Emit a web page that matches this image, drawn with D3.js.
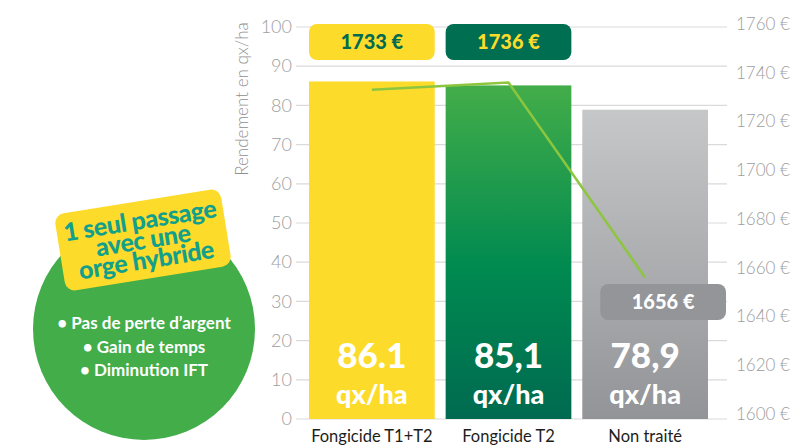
<script type='text/javascript' src='https://d3js.org/d3.v7.min.js'></script>
<style>
body { margin: 0; background: #fff; }
svg { display: block; font-family: Lato, "Open Sans", sans-serif; }
</style>
<svg width="792" height="446"></svg>
<script>
// data
var categories = ["Fongicide T1+T2", "Fongicide T2", "Non traité"];
var yields = [86.1, 85.1, 78.9];
var yieldLabels = ["86.1", "85,1", "78,9"];
var prices = [1733, 1736, 1656];
var yieldTicks = [0, 10, 20, 30, 40, 50, 60, 70, 80, 90, 100];
var priceTicks = [1600, 1620, 1640, 1660, 1680, 1700, 1720, 1740, 1760];
var bullets = ["• Pas de perte d\u2019argent", "• Gain de temps", "• Diminution IFT"];
var calloutLines = ["1 seul passage", "avec une", "orge hybride"];

var svg = d3.select("svg");

var x = d3.scaleBand().domain(categories).range([309, 708]).paddingInner(0.08);
var y = d3.scaleLinear().domain([0, 100]).range([419, 27]);
var y2 = d3.scaleLinear().domain([1600, 1760]).range([414, 24]);

var defs = svg.append("defs");
var g2 = defs.append("linearGradient").attr("id", "gradGreen")
 .attr("x1", 0).attr("y1", 0).attr("x2", 0).attr("y2", 1);
g2.append("stop").attr("offset", "0%").attr("stop-color", "#43ad49");
g2.append("stop").attr("offset", "55%").attr("stop-color", "#008a50");
g2.append("stop").attr("offset", "100%").attr("stop-color", "#006a50");
var g3 = defs.append("linearGradient").attr("id", "gradGrey")
 .attr("x1", 0).attr("y1", 0).attr("x2", 0).attr("y2", 1);
g3.append("stop").attr("offset", "0%").attr("stop-color", "#c6c7c9");
g3.append("stop").attr("offset", "100%").attr("stop-color", "#929497");

var barFill = ["#fddb2b", "url(#gradGreen)", "url(#gradGrey)"];

// gridlines
svg.append("g").selectAll("line")
 .data(yieldTicks)
 .enter().append("line")
 .attr("x1", 296).attr("x2", 727)
 .attr("y1", function(d) { return y(d); })
 .attr("y2", function(d) { return y(d); })
 .attr("stroke", "#dadada")
 .attr("stroke-width", 1.2);

// left axis
var left = svg.append("g")
 .attr("transform", "translate(292,0)")
 .call(d3.axisLeft(y).tickValues(yieldTicks).tickSize(0).tickPadding(0));
left.select(".domain").remove();
left.selectAll("text")
 .attr("font-family", "Lato, sans-serif")
 .attr("font-weight", 300)
 .attr("font-size", "18px")
 .attr("fill", "#9d9d9d");

// right axis
var right = svg.append("g")
 .attr("transform", "translate(736,0)")
 .call(d3.axisRight(y2).tickValues(priceTicks).tickSize(0).tickPadding(0)
   .tickFormat(function(d) { return d + " \u20ac"; }));
right.select(".domain").remove();
right.selectAll("text")
 .attr("font-family", "Lato, sans-serif")
 .attr("font-weight", 300)
 .attr("font-size", "17px")
 .attr("fill", "#9d9d9d");

svg.append("text")
 .attr("transform", "translate(248,99) rotate(-90)")
 .attr("text-anchor", "middle")
 .attr("font-size", "17px")
 .attr("font-weight", 300)
 .attr("fill", "#8f8f8f")
 .text("Rendement en qx/ha");

// bars
svg.append("g").selectAll("rect")
 .data(yields)
 .enter().append("rect")
 .attr("x", function(d, i) { return x(categories[i]); })
 .attr("y", function(d) { return y(d); })
 .attr("width", x.bandwidth())
 .attr("height", function(d) { return y(0) - y(d); })
 .attr("fill", function(d, i) { return barFill[i]; });

// value labels in bars
var vl = svg.append("g").selectAll("g")
 .data(yields)
 .enter().append("g")
 .attr("transform", function(d, i) { return "translate(" + (x(categories[i]) + x.bandwidth() / 2) + ",0)"; });
vl.append("text")
 .attr("y", 368)
 .attr("text-anchor", "middle")
 .attr("font-size", "35px")
 .attr("font-weight", 900)
 .attr("fill", "#fff")
 .text(function(d, i) { return yieldLabels[i]; });
vl.append("text")
 .attr("y", 404)
 .attr("text-anchor", "middle")
 .attr("font-size", "27px")
 .attr("font-weight", 900)
 .attr("fill", "#fff")
 .text("qx/ha");

// category labels
svg.append("g").selectAll("text")
 .data(categories)
 .enter().append("text")
 .attr("x", function(d) { return x(d) + x.bandwidth() / 2; })
 .attr("y", 442)
 .attr("text-anchor", "middle")
 .attr("font-size", "16.5px")
 .attr("fill", "#1d1d1b")
 .text(function(d) { return d; });

// price line
var line = d3.line()
 .x(function(d, i) { return x(categories[i]) + x.bandwidth() / 2; })
 .y(function(d) { return y2(d); });
svg.append("path")
 .datum(prices)
 .attr("d", line)
 .attr("fill", "none")
 .attr("stroke", "#8cc63f")
 .attr("stroke-width", 2.5);

// price badges
var badgeFill = ["#fddb2b", "#006e50", "#939598"];
var badgeText = ["#006b50", "#fddb2b", "#ffffff"];
var badgeY = [24, 24, 284];
var badgeX = [x(categories[0]), x(categories[1]), x(categories[2]) + 18];
var bd = svg.append("g").selectAll("g")
 .data(prices)
 .enter().append("g")
 .attr("transform", function(d, i) { return "translate(" + badgeX[i] + "," + badgeY[i] + ")"; });
bd.append("rect")
 .attr("width", x.bandwidth())
 .attr("height", 36)
 .attr("rx", 8)
 .attr("fill", function(d, i) { return badgeFill[i]; });
bd.append("text")
 .attr("x", x.bandwidth() / 2)
 .attr("y", 25)
 .attr("text-anchor", "middle")
 .attr("font-size", "20px")
 .attr("font-weight", 900)
 .attr("fill", function(d, i) { return badgeText[i]; })
 .text(function(d) { return d + " \u20ac"; });

// left circle callout
svg.append("circle")
 .attr("cx", 144).attr("cy", 329).attr("r", 111)
 .attr("fill", "#42ad49");
svg.append("g").selectAll("text")
 .data(bullets)
 .enter().append("text")
 .attr("x", 144)
 .attr("y", function(d, i) { return 329 + i * 23.5; })
 .attr("text-anchor", "middle")
 .attr("font-size", "17px")
 .attr("font-weight", 700)
 .attr("fill", "#fff")
 .text(function(d) { return d; });

var co = svg.append("g").attr("transform", "translate(143,240) rotate(-9.2)");
co.append("rect")
 .attr("x", -84).attr("y", -39).attr("width", 168).attr("height", 78)
 .attr("rx", 10)
 .attr("fill", "#fddb2b");
co.selectAll("text")
 .data(calloutLines)
 .enter().append("text")
 .attr("y", function(d, i) { return -11 + i * 20; })
 .attr("text-anchor", "middle")
 .attr("font-size", "25px")
 .attr("font-weight", 900)
 .attr("letter-spacing", "-0.4px")
 .attr("fill", "#13a08b")
 .text(function(d) { return d; });
</script>
